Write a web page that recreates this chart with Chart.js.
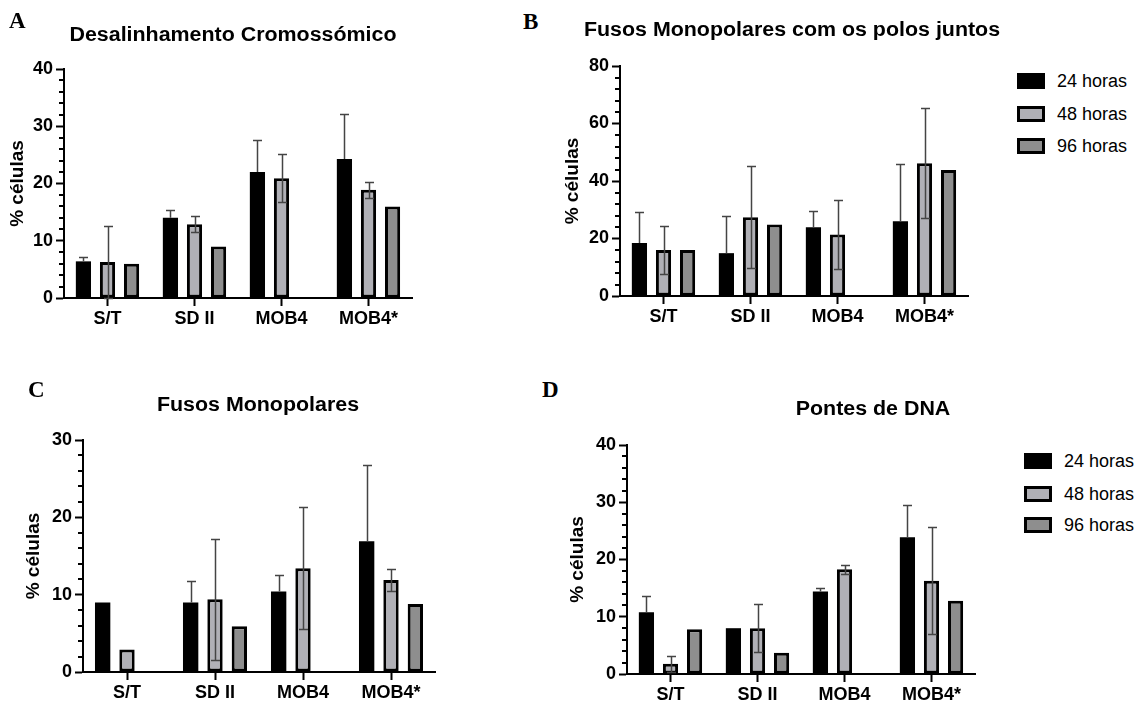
<!DOCTYPE html>
<html>
<head>
<meta charset="utf-8">
<script src="https://cdn.jsdelivr.net/npm/chart.js@4.4.1/dist/chart.umd.min.js"></script>
<style>
body { margin: 0; background: #fff; width: 1139px; height: 707px; position: relative; overflow: hidden; font-family: "Liberation Sans", Arial, sans-serif; }
canvas { position: absolute; }
.letter { position: absolute; font-family: "Liberation Serif", "Times New Roman", serif; font-weight: bold; font-size: 23px; line-height: 23px; }
.title { position: absolute; font-weight: bold; font-size: 20px; line-height: 20px; white-space: nowrap; transform: translateX(-50%) scaleX(1.07); }
.legend-row { position: absolute; display: flex; align-items: center; height: 16px; font-size: 18px; line-height: 16px; white-space: nowrap; }
.swatch { width: 28px; height: 16px; box-sizing: border-box; border: 3px solid #000; margin-right: 12px; }
</style>
</head>
<body>
<canvas id="chartA" width="440" height="340"></canvas>
<canvas id="chartB" width="440" height="340"></canvas>
<canvas id="chartC" width="440" height="337"></canvas>
<canvas id="chartD" width="440" height="337"></canvas>

<script>
const categories = ["S/T", "SD II", "MOB4", "MOB4*"];
const seriesLabels = ["24 horas", "48 horas", "96 horas"];
const seriesColors = ["#000000", "#b0b0b6", "#8e8e8e"];

// A - Desalinhamento Cromossómico
const desal24 = [6.4, 14, 22, 24.3];
const desal48 = [6.3, 12.9, 20.9, 18.9];
const desal96 = [6, 9, null, 16];
const desal24Err = [0.7, 1.4, 5.6, 7.9];
const desal48Err = [6.3, 1.4, 4.2, 1.4];

// B - Fusos Monopolares com os polos juntos
const juntos24 = [18.4, 14.9, 23.9, 26];
const juntos48 = [16, 27.4, 21.4, 46.2];
const juntos96 = [16, 24.9, null, 43.8];
const juntos24Err = [10.7, 12.8, 5.8, 19.8];
const juntos48Err = [8.5, 17.8, 12, 19.2];

// C - Fusos Monopolares
const fusos24 = [9, 9, 10.4, 16.9];
const fusos48 = [2.9, 9.4, 13.4, 11.9];
const fusos96 = [null, 5.9, null, 8.8];
const fusos24Err = [null, 2.8, 2.1, 9.9];
const fusos48Err = [null, 7.8, 7.9, 1.4];

// D - Pontes de DNA
const pontes24 = [10.8, 8, 14.4, 23.9];
const pontes48 = [1.8, 8, 18.3, 16.3];
const pontes96 = [7.8, 3.7, null, 12.8];
const pontes24Err = [2.9, null, 0.7, 5.7];
const pontes48Err = [1.4, 4.2, 0.8, 9.3];

// y axis: max, major step, minor step
const yAxisA = [40, 10, 2];
const yAxisB = [80, 20, 4];
const yAxisC = [30, 10, 2];
const yAxisD = [40, 10, 2];

const errorBars = {
    id: "errorBars",
    afterDatasetsDraw(chart) {
        const ctx = chart.ctx;
        const y = chart.scales.y;
        ctx.save();
        ctx.strokeStyle = "#444";
        ctx.lineWidth = 1.5;
        chart.data.datasets.forEach((ds, i) => {
            if (!ds.errors) return;
            const meta = chart.getDatasetMeta(i);
            meta.data.forEach((bar, j) => {
                const v = ds.data[j];
                const e = ds.errors[j];
                if (v == null || e == null) return;
                const top = Math.round(y.getPixelForValue(v + e)) + 0.5;
                // lower half is hidden inside the solid black bars
                const low = i === 0 ? bar.y : Math.round(y.getPixelForValue(Math.max(0, v - e))) + 0.5;
                const x = Math.round(bar.x) + 0.5;
                ctx.beginPath();
                ctx.moveTo(x, top); ctx.lineTo(x, low);
                ctx.moveTo(x - 4.5, top); ctx.lineTo(x + 4.5, top);
                if (i !== 0) { ctx.moveTo(x - 4.5, low); ctx.lineTo(x + 4.5, low); }
                ctx.stroke();
            });
        });
        ctx.restore();
    }
};

const minorTicks = {
    id: "minorTicks",
    afterDraw(chart) {
        const y = chart.scales.y;
        const [max, major, minor] = chart.options.plugins.minorTicks.axis;
        const ctx = chart.ctx;
        const x0 = chart.chartArea.left;
        ctx.save();
        ctx.strokeStyle = "#000";
        ctx.lineWidth = 2;
        for (let v = 0; v <= max; v += minor) {
            if (v % major === 0) continue;
            const py = Math.round(y.getPixelForValue(v));
            ctx.beginPath();
            ctx.moveTo(x0 - 5, py);
            ctx.lineTo(x0, py);
            ctx.stroke();
        }
        ctx.restore();
    }
};

function makeDatasets(d24, d48, d96, e24, e48) {
    const values = [d24, d48, d96];
    const errs = [e24, e48, null];
    return values.map((vals, i) => ({
        label: seriesLabels[i],
        data: vals,
        errors: errs[i],
        backgroundColor: seriesColors[i],
        borderColor: "#000",
        borderWidth: i === 0 ? 0 : 3,
        borderSkipped: false,
        categoryPercentage: 0.83,
        barPercentage: 0.63
    }));
}

function makeChart(id, canvasBox, area, axis, datasets) {
    const canvas = document.getElementById(id);
    canvas.style.left = canvasBox[0] + "px";
    canvas.style.top = canvasBox[1] + "px";
    const yWidth = area[0] - canvasBox[0];
    const xHeight = 30;
    const [max, major] = axis;
    return new Chart(canvas, {
        type: "bar",
        data: { labels: categories, datasets: datasets },
        options: {
            responsive: false,
            animation: false,
            layout: {
                padding: {
                    left: 0,
                    top: area[1] - canvasBox[1],
                    right: canvasBox[0] + canvas.width - area[2],
                    bottom: canvasBox[1] + canvas.height - area[3] - xHeight
                }
            },
            plugins: {
                legend: { display: false },
                tooltip: { enabled: false },
                minorTicks: { axis: axis }
            },
            scales: {
                x: {
                    offset: true,
                    afterFit: (s) => { s.height = xHeight; },
                    border: { display: true, color: "#000", width: 2 },
                    grid: { display: true, drawOnChartArea: false, offset: false, tickLength: 8, tickWidth: 2, tickColor: "#000" },
                    ticks: { color: "#000", font: { family: "Liberation Sans", weight: "bold", size: 18 }, padding: 2, autoSkip: false, maxRotation: 0 }
                },
                y: {
                    min: 0,
                    max: max,
                    afterFit: (s) => { s.width = yWidth; },
                    border: { display: true, color: "#000", width: 2 },
                    grid: { display: true, drawOnChartArea: false, tickLength: 8, tickWidth: 2, tickColor: "#000" },
                    ticks: { stepSize: major, color: "#000", font: { family: "Liberation Sans", weight: "bold", size: 18 }, padding: 3 },
                    title: { display: true, text: "% células", color: "#000", font: { family: "Liberation Sans", weight: "bold", size: 19 }, padding: { top: 6, bottom: 0 } }
                }
            }
        },
        plugins: [errorBars, minorTicks]
    });
}

makeChart("chartA", [0, 0], [64, 69, 412, 298], yAxisA, makeDatasets(desal24, desal48, desal96, desal24Err, desal48Err));
makeChart("chartB", [555, 0], [620, 66, 968, 296], yAxisB, makeDatasets(juntos24, juntos48, juntos96, juntos24Err, juntos48Err));
makeChart("chartC", [16, 370], [83, 440, 435, 672], yAxisC, makeDatasets(fusos24, fusos48, fusos96, fusos24Err, fusos48Err));
makeChart("chartD", [560, 370], [627, 445, 975, 674], yAxisD, makeDatasets(pontes24, pontes48, pontes96, pontes24Err, pontes48Err));

// panel letters and titles
function addText(cls, text, left, top) {
    const el = document.createElement("div");
    el.className = cls;
    el.textContent = text;
    el.style.left = left + "px";
    el.style.top = top + "px";
    document.body.appendChild(el);
}
addText("letter", "A", 9, 9);
addText("letter", "B", 523, 10);
addText("letter", "C", 28, 378);
addText("letter", "D", 542, 378);
addText("title", "Desalinhamento Cromossómico", 233, 23.8);
addText("title", "Fusos Monopolares com os polos juntos", 792, 18.8);
addText("title", "Fusos Monopolares", 258, 393.8);
addText("title", "Pontes de DNA", 873, 398);

// legends next to B and D
function addLegend(left, tops) {
    seriesLabels.forEach((label, i) => {
        const row = document.createElement("div");
        row.className = "legend-row";
        row.style.left = left + "px";
        row.style.top = tops[i] + "px";
        const sw = document.createElement("div");
        sw.className = "swatch";
        sw.style.background = seriesColors[i];
        const txt = document.createElement("span");
        txt.textContent = label;
        row.appendChild(sw);
        row.appendChild(txt);
        document.body.appendChild(row);
    });
}
addLegend(1017, [73, 106, 138]);
addLegend(1024, [453, 486, 517]);
</script>
</body>
</html>
